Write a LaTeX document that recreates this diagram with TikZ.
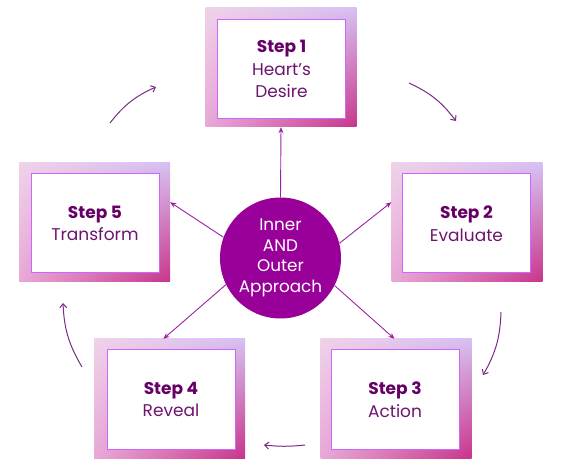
\documentclass[tikz,border=0pt]{standalone}
\usepackage{fontspec}
\setmainfont{Poppins}
\usetikzlibrary{arrows.meta,calc,shadings}
\definecolor{titlec}{HTML}{660066}
\definecolor{subc}{HTML}{6E1470}
\definecolor{hubc}{HTML}{990099}
\definecolor{spokec}{HTML}{9A22A0}
\definecolor{curvec}{HTML}{7A2A86}
\definecolor{edgec}{HTML}{CC66FF}
\definecolor{fUL}{HTML}{EFD2E8}
\definecolor{fUR}{HTML}{D6C0F2}
\definecolor{fLL}{HTML}{E8A8D8}
\definecolor{fLR}{HTML}{C8348A}
\tikzset{
  frame/.style={shade, upper left=fUL, upper right=fUR, lower left=fLL, lower right=fLR,
    minimum width=151pt, minimum height=119pt, inner sep=0pt},
  card/.style={fill=white, draw=edgec, line width=1pt, minimum width=128pt,
    minimum height=99pt, inner sep=0pt, align=center, text=subc,
    font=\fontsize{17}{22.5}\selectfont},
  hub/.style={circle, fill=hubc, minimum size=121pt, inner sep=0pt, align=center,
    text=white, font=\fontsize{16.8}{20.5}\selectfont},
  spoke/.style={draw=spokec, line width=0.9pt, -{Stealth[length=6pt,width=5pt]}},
  cycle/.style={draw=curvec, line width=1pt, -{Straight Barb[length=4pt,width=7pt]}, bend left=14}
}
\newcommand{\stitle}[1]{{\bfseries\color{titlec}#1}}
\begin{document}
\begin{tikzpicture}[x=1pt,y=-1pt]
\useasboundingbox (0,0) rectangle (563,473);
% frames
\node[frame] (f1) at (281,67.5) {};
\node[frame] (f2) at (467,222.5) {};
\node[frame] (f3) at (396,398.5) {};
\node[frame] (f4) at (169.5,398.5) {};
\node[frame] (f5) at (94.5,222.5) {};
% cards
\node[card] (b1) at (281.5,69) {\stitle{Step 1}\\Heart’s\\Desire};
\node[card] (b2) at (466.5,223.5) {\stitle{Step 2}\\Evaluate};
\node[card] (b3) at (395,399.5) {\stitle{Step 3}\\Action};
\node[card] (b4) at (171,399.5) {\stitle{Step 4}\\Reveal};
\node[card] (b5) at (95,223.5) {\stitle{Step 5}\\Transform};
% hub
\node[hub] (c) at (280.5,258) {Inner\\AND\\Outer\\Approach};
% spoke targets
\coordinate (t2) at ($(f2.north west)!0.33!(f2.south west)$);
\coordinate (t5) at ($(f5.north east)!0.33!(f5.south east)$);
\coordinate (t4) at ($(f4.north west)!0.46!(f4.north east)$);
\coordinate (t3) at ($(f3.north west)!0.49!(f3.north east)$);
\draw[spoke] (c.north) -- (f1.south);
\draw[spoke] (c.14) -- (t2);
\draw[spoke] (c.-27) -- (t3);
\draw[spoke] (c.206) -- (t4);
\draw[spoke] (c.160) -- (t5);
% cycle arrows
\coordinate (a1s) at (409,83);  \coordinate (a1e) at (456,121);
\coordinate (a2s) at (501,312); \coordinate (a2e) at (483,375);
\coordinate (a3s) at (305,445); \coordinate (a3e) at (264,445);
\coordinate (a4s) at (82,367);  \coordinate (a4e) at (63,303);
\coordinate (a5s) at (110,123); \coordinate (a5e) at (156,87);
\draw[cycle] (a1s) to (a1e);
\draw[cycle] (a2s) to (a2e);
\draw[cycle, bend left=6] (a3s) to (a3e);
\draw[cycle] (a4s) to (a4e);
\draw[cycle] (a5s) to (a5e);
\end{tikzpicture}
\end{document}
